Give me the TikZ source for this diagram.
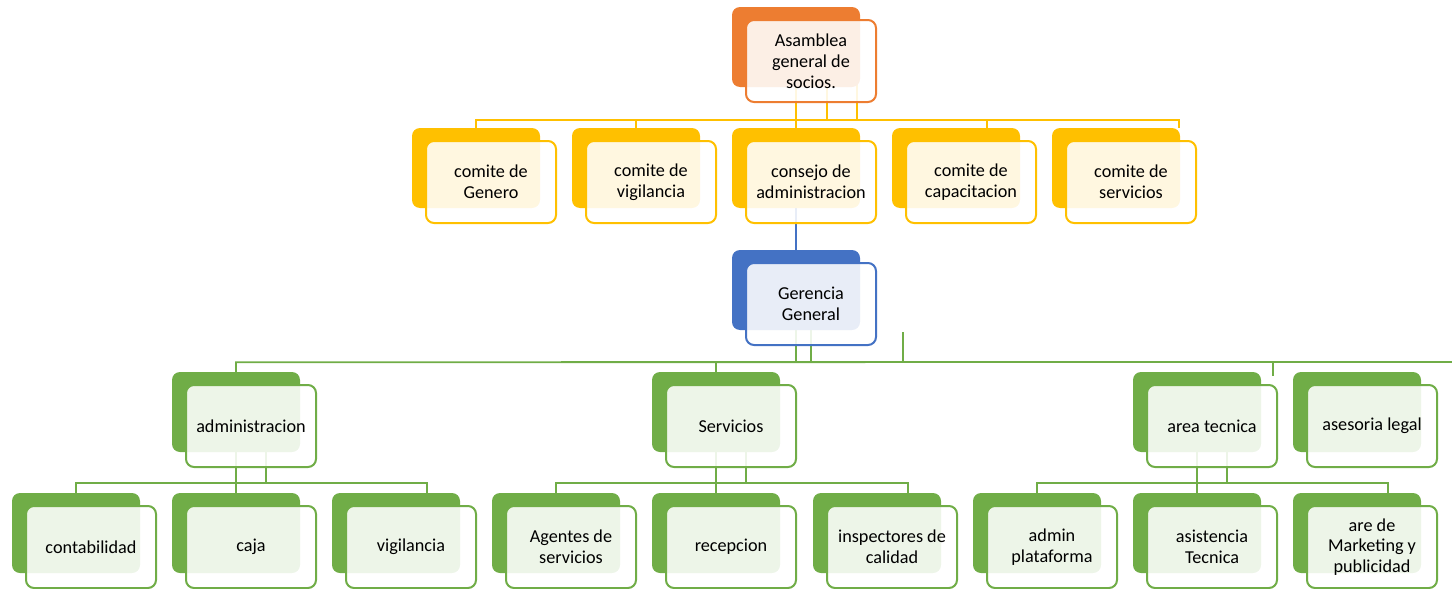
\documentclass[tikz,border=0pt]{standalone}
\usepackage{fontspec}
\setmainfont{Carlito}
\usetikzlibrary{backgrounds,calc}
\definecolor{corange}{HTML}{ED7D31}
\definecolor{cyel}{HTML}{FFC000}
\definecolor{cblue}{HTML}{4472C4}
\definecolor{cgreen}{HTML}{70AD47}
\newcommand\orgfont{\fontsize{18.2}{20.8}\selectfont}
\tikzset{
  backbox/.style={fill=#1, draw=none, rounded corners=8pt, minimum width=128pt, minimum height=80pt, inner sep=0pt},
  frontbox/.style={draw=#1, line width=2pt, fill=white, fill opacity=0.88, text opacity=1, rounded corners=8pt,
    minimum width=130pt, minimum height=82pt, inner sep=0pt, align=center, font=\orgfont, text=black},
  conn/.style={draw=#1, line width=1.8pt},
}
% name, x, y (top-left of back box), colour, text
\newcommand\orgunit[5]{%
  \node[backbox=#4] (#1B) at (#2+64,#3+40) {};
  \node[frontbox=#4] (#1) at (#2+79,#3+54) {#5};
}
% parent, child1, child2, child3
\newcommand\orggroup[4]{%
  \coordinate (bus#1) at ($(#1B.south)+(0,31)$);
  \coordinate (end#1) at ($(#4B.north)+(31,0)$);
  \draw[conn=cgreen] ($(#1B.south)+(0,-5)$) -- (bus#1);
  \draw[conn=cgreen] ($(#1B.south)+(30,-5)$) -- ($(bus#1)+(30,0)$);
  \draw[conn=cgreen] (#2B.north) -- (#2B.north |- bus#1) -- (end#1 |- bus#1) -- (end#1);
  \draw[conn=cgreen] (#3B.north) -- (#3B.north |- bus#1);
}
\begin{document}
\begin{tikzpicture}[x=1pt,y=-1pt]
\useasboundingbox (0,0) rectangle (1452,589);

% level 0
\orgunit{asam}{732}{7}{corange}{Asamblea\\general de\\socios.}
% level 1
\orgunit{gen}{412}{128}{cyel}{comite de\\Genero}
\orgunit{vig}{572}{128}{cyel}{comite de\\vigilancia}
\orgunit{con}{732}{128}{cyel}{consejo de\\administracion}
\orgunit{cap}{892}{128}{cyel}{comite de\\capacitacion}
\orgunit{ser}{1052}{128}{cyel}{comite de\\servicios}
% gerencia
\orgunit{ger}{732}{250}{cblue}{Gerencia\\General}
% level 2
\orgunit{adm}{172}{372}{cgreen}{administracion}
\orgunit{srv}{652}{372}{cgreen}{Servicios}
\orgunit{area}{1133}{372}{cgreen}{area tecnica}
\orgunit{ases}{1293}{372}{cgreen}{asesoria legal}
% level 3
\orgunit{cont}{12}{493}{cgreen}{contabilidad}
\orgunit{caja}{172}{493}{cgreen}{caja}
\orgunit{vigi}{332}{493}{cgreen}{vigilancia}
\orgunit{agen}{492}{493}{cgreen}{Agentes de\\servicios}
\orgunit{rec}{652}{493}{cgreen}{recepcion}
\orgunit{insp}{813}{493}{cgreen}{inspectores de\\calidad}
\orgunit{admp}{973}{493}{cgreen}{admin\\plataforma}
\orgunit{asis}{1133}{493}{cgreen}{asistencia\\Tecnica}
\orgunit{mark}{1293}{493}{cgreen}{are de\\Marketing y\\publicidad}

\begin{scope}[on background layer]
  % level 1 connectors
  \coordinate (bus1) at ($(asamB.south)+(0,33)$);
  \coordinate (capd) at ($(capB.north)+(31,0)$);
  \coordinate (serd) at ($(serB.north)+(63,0)$);
  \draw[conn=cyel] ($(asamB.south)+(0,-5)$) -- (bus1);
  \draw[conn=cyel] ($(asamB.south)+(31,-5)$) -- ($(bus1)+(31,0)$);
  \draw[conn=cyel] ($(asamB.south)+(61,-5)$) -- ($(bus1)+(61,0)$);
  \draw[conn=cyel] (genB.north) -- (genB.north |- bus1) -- (serd |- bus1) -- (serd);
  \draw[conn=cyel] (vigB.north) -- (vigB.north |- bus1);
  \draw[conn=cyel] (conB.north) -- (conB.north |- bus1);
  \draw[conn=cyel] (capd) -- (capd |- bus1);
  % consejo -> gerencia
  \draw[conn=cblue] (conB.south) -- (gerB.north);
  % level 2 connectors
  \coordinate (bus2) at ($(gerB.south)+(0,32)$);
  \coordinate (busend) at (1452,362);
  \coordinate (xtra) at ($(gerB.south)+(107,2)$);
  \coordinate (aread) at ($(areaB.north)+(76,4)$);
  \draw[conn=cgreen] ($(gerB.south)+(0,-5)$) -- (bus2);
  \draw[conn=cgreen] ($(gerB.south)+(15,-5)$) -- ($(bus2)+(15,0)$);
  \draw[conn=cgreen] (xtra) -- (xtra |- bus2);
  \draw[conn=cgreen] (admB.north) -- (admB.north |- bus2) -- (busend);
  \draw[conn=cgreen] (srvB.north) -- (srvB.north |- bus2);
  \draw[conn=cgreen] (aread) -- (aread |- bus2);
  % level 3 connectors
  \orggroup{adm}{cont}{caja}{vigi}
  \orggroup{srv}{agen}{rec}{insp}
  \orggroup{area}{admp}{asis}{mark}
\end{scope}
\end{tikzpicture}
\end{document}
